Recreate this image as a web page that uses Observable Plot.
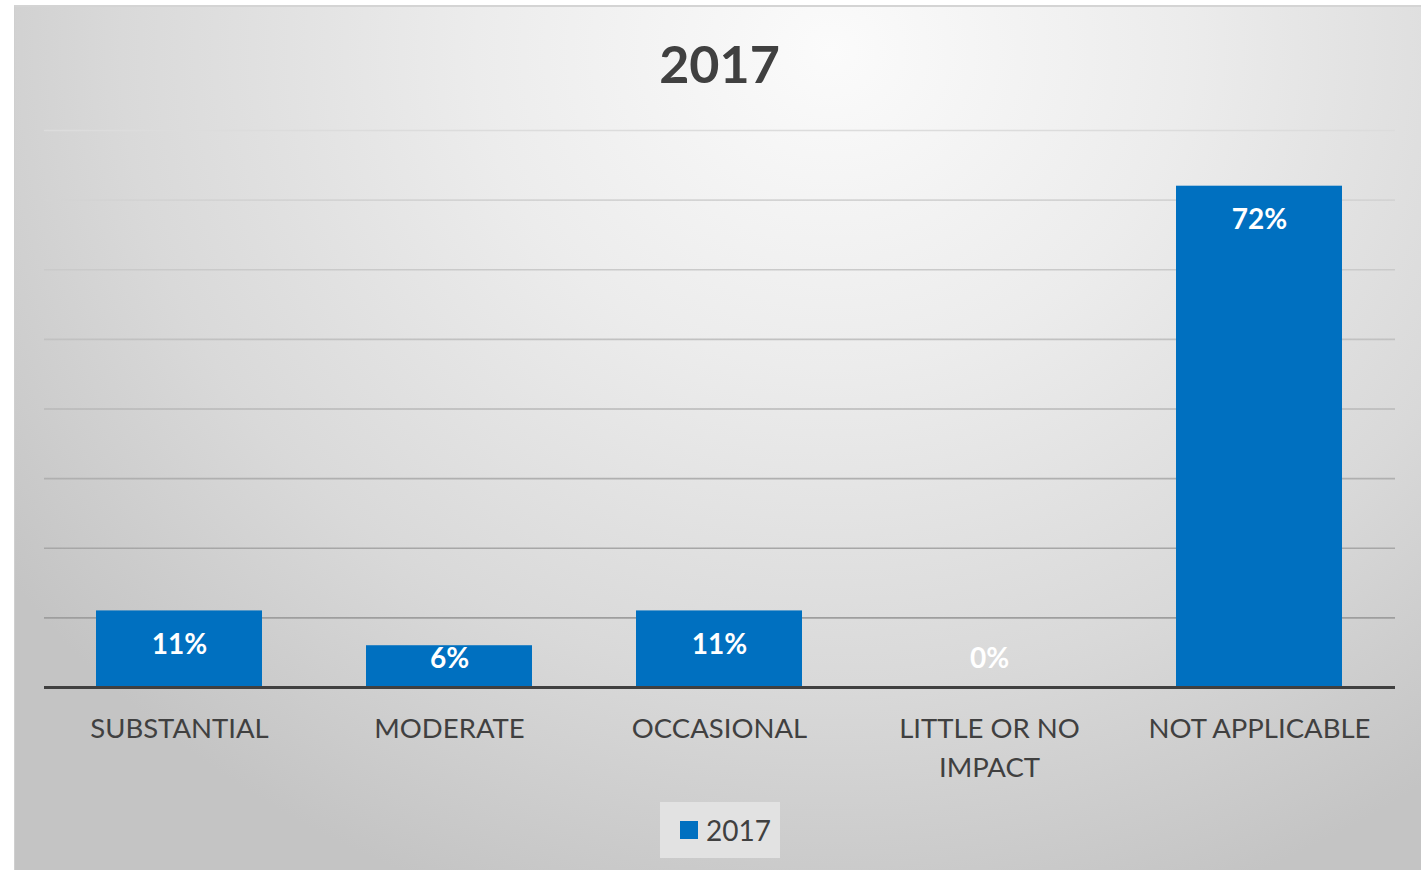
<!DOCTYPE html>
<html><head><meta charset="utf-8">
<script src="https://cdn.jsdelivr.net/npm/d3@7"></script>
<script src="https://cdn.jsdelivr.net/npm/@observablehq/plot@0.6"></script>
<style>
body{margin:0;background:#fff;font-family:Lato,"Open Sans",sans-serif;}
#wrap{position:relative;width:1421px;height:870px;overflow:hidden;}
#frame{position:absolute;left:14px;top:5px;right:0;bottom:0;
  border-left:1px solid #cfcfcf;border-top:2px solid #d4d4d4;
  background:radial-gradient(ellipse 72% 105% at 58% 5%, #fbfbfb 0%, #ececec 35%, #d9d9d9 70%, #c4c4c4 100%);}
#title{position:absolute;left:0;top:37px;width:1439px;text-align:center;font-size:52px;line-height:52px;font-weight:bold;color:#404040;}
#chart{position:absolute;left:0;top:100px;}
#legend{position:absolute;left:660px;top:802px;width:120px;height:56px;background:#e2e2e2;}
#legend .sw{position:absolute;left:20px;top:19px;width:18px;height:18px;}
#legend .lb{position:absolute;left:46px;top:11px;font-size:28px;line-height:34px;color:#404040;}
</style></head>
<body>
<div id="wrap">
  <div id="frame"></div>
  <div id="title"></div>
  <div id="chart"></div>
  <div id="legend"><div class="sw"></div><div class="lb"></div></div>
</div>
<script>
const titleText = "2017";
const seriesName = "2017";
const categories = ["SUBSTANTIAL", "MODERATE", "OCCASIONAL", "LITTLE OR NO IMPACT", "NOT APPLICABLE"];
const tickLabels = ["SUBSTANTIAL", "MODERATE", "OCCASIONAL", "LITTLE OR NO\nIMPACT", "NOT APPLICABLE"];
const values = [11, 6, 11, 0, 72];
const gridTicks = [10, 20, 30, 40, 50, 60, 70, 80];
const barColor = "#0070C0";

const data = categories.map((c, i) => ({category: c, value: values[i]}));

document.getElementById("title").textContent = titleText;
document.querySelector("#legend .sw").style.background = barColor;
document.querySelector("#legend .lb").textContent = seriesName;

const chart = Plot.plot({
  width: 1421,
  height: 700,
  marginLeft: 44,
  marginRight: 26,
  marginTop: 30,
  marginBottom: 113,
  style: {background: "transparent", fontFamily: "Lato, 'Open Sans', sans-serif", color: "#404040", overflow: "visible"},
  x: {domain: categories, paddingInner: 0.385, paddingOuter: 0.1925},
  y: {domain: [0, 80], axis: null},
  marks: [
    Plot.ruleY(gridTicks, {stroke: "url(#gridGrad)", strokeWidth: 1.6}),
    Plot.barY(data, {x: "category", y: "value", fill: barColor}),
    Plot.ruleY([0], {stroke: "#404040", strokeWidth: 3}),
    Plot.text(data, {x: "category", y: d => Math.max(d.value, 9), dy: 34, text: d => d.value + "%", fill: "white", fontWeight: "bold", fontSize: 28}),
    Plot.axisX({tickSize: 0, tickPadding: 23, fontSize: 27.5, lineHeight: 1.42, tickFormat: (d) => tickLabels[categories.indexOf(d)], label: null})
  ]
});
document.getElementById("chart").appendChild(chart);

const svg = d3.select(chart.tagName.toLowerCase() === "svg" ? chart : chart.querySelector("svg"));
const ys = chart.scale("y");
const grad = svg.insert("defs", ":first-child").append("linearGradient")
  .attr("id", "gridGrad").attr("gradientUnits", "userSpaceOnUse")
  .attr("x1", 0).attr("x2", 0)
  .attr("y1", ys.apply(gridTicks[gridTicks.length - 1])).attr("y2", ys.apply(gridTicks[0]));
grad.append("stop").attr("offset", "0%").attr("stop-color", "#dcdcdc");
grad.append("stop").attr("offset", "100%").attr("stop-color", "#9e9e9e");
</script>
</body></html>
